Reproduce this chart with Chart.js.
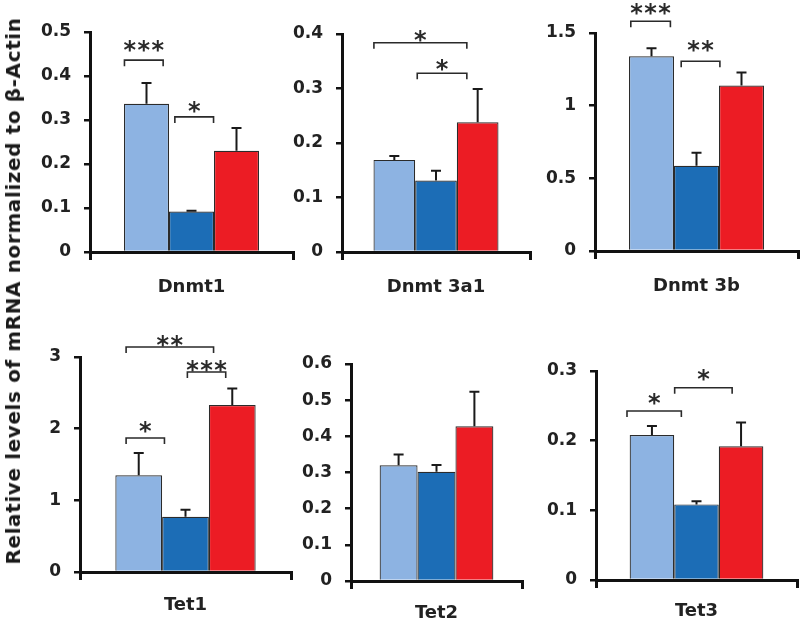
<!DOCTYPE html>
<html>
<head>
<meta charset="utf-8">
<script src="https://cdn.jsdelivr.net/npm/chart.js@4/dist/chart.umd.min.js"></script>
<style>
  html, body { margin: 0; padding: 0; background: #fff; }
  body { width: 800px; height: 621px; position: relative; overflow: hidden; }
  .panel { position: absolute; }
  #ytitle {
    position: absolute; left: 13px; top: 291px;
    transform: translate(-50%, -50%) rotate(-90deg);
    white-space: nowrap; font-family: "DejaVu Sans", sans-serif; font-weight: bold;
    font-size: 20px; letter-spacing: 0.6px; color: #1a1a1a; z-index: 5;
  }
</style>
</head>
<body>
<div id="ytitle">Relative levels of mRNA normalized to β-Actin</div>
<script>
// ---------- data ----------
const panelNames   = ['Dnmt1', 'Dnmt 3a1', 'Dnmt 3b', 'Tet1', 'Tet2', 'Tet3'];
const lightBlue    = [0.337, 0.169, 1.34, 1.35, 0.32, 0.208];
const lightBlueErr = [0.047, 0.007, 0.055, 0.31, 0.03, 0.013];
const darkBlue     = [0.092, 0.131, 0.586, 0.77, 0.302, 0.1085];
const darkBlueErr  = [0.002, 0.018, 0.09, 0.10, 0.019, 0.0045];
const redVals      = [0.23, 0.238, 1.138, 2.33, 0.428, 0.192];
const redErr       = [0.052, 0.061, 0.09, 0.23, 0.095, 0.034];

const yTicks = [
  [0, 0.1, 0.2, 0.3, 0.4, 0.5],
  [0, 0.1, 0.2, 0.3, 0.4],
  [0, 0.5, 1, 1.5],
  [0, 1, 2, 3],
  [0, 0.1, 0.2, 0.3, 0.4, 0.5, 0.6],
  [0, 0.1, 0.2, 0.3]
];
const yTickLabels = [
  ['0', '0.1', '0.2', '0.3', '0.4', '0.5'],
  ['0', '0.1', '0.2', '0.3', '0.4'],
  ['0', '0.5', '1', '1.5'],
  ['0', '1', '2', '3'],
  ['0', '0.1', '0.2', '0.3', '0.4', '0.5', '0.6'],
  ['0', '0.1', '0.2', '0.3']
];

// significance brackets: from/to in bar-index units, y in data units
const brackets = [
  [{from: -0.49, to: 0.37, y: 0.436, text: '***', gap: 16}, {from: 0.63, to: 1.49, y: 0.307, text: '*', gap: 12}],
  [{from: -0.49, to: 1.74, y: 0.384, text: '*', gap: 9}, {from: 0.55, to: 1.74, y: 0.328, text: '*', gap: 10}],
  [{from: -0.46, to: 0.42, y: 1.581, text: '***', gap: 14}, {from: 0.66, to: 1.52, y: 1.306, text: '**', gap: 17}],
  [{from: -0.27, to: 1.6, y: 3.14, text: '**', gap: 8}, {from: 1.04, to: 1.86, y: 2.79, text: '***', gap: 8}, {from: -0.27, to: 0.55, y: 1.87, text: '*', gap: 13}],
  [],
  [{from: -0.56, to: 0.66, y: 0.2426, text: '*', gap: 14}, {from: 0.51, to: 1.8, y: 0.276, text: '*', gap: 15}]
];

// ---------- layout ----------
const geom = [ // axisX, topY, zeroY, rightX, label padding
  [90, 32, 252, 293, 17],
  [342, 34, 252, 530, 17],
  [595, 33, 251, 798, 17],
  [80, 357, 572, 291, 15],
  [351, 364, 581, 522, 14],
  [596, 371, 580, 797, 13]
];
const Y_AXIS_W = 70, PAD_TOP = 34, X_AXIS_H = 50, PAD_RIGHT = 4;
const FONT = '"DejaVu Sans", sans-serif';
const colors = ['#8DB3E2', '#1C6DB6', '#EC1C24'];

const annotPlugin = {
  id: 'annot',
  afterDatasetsDraw(chart, args, opts) {
    const ctx = chart.ctx;
    const ys = chart.scales.y;
    const metas = [0, 1, 2].map(i => chart.getDatasetMeta(i).data[0]);
    // error bars (upper only)
    ctx.save();
    ctx.strokeStyle = '#1a1a1a';
    ctx.lineWidth = 2;
    opts.errs.forEach((e, i) => {
      const bar = metas[i];
      const v = chart.data.datasets[i].data[0];
      const yTop = ys.getPixelForValue(v + e);
      ctx.beginPath();
      ctx.moveTo(bar.x, bar.y);
      ctx.lineTo(bar.x, yTop);
      ctx.moveTo(bar.x - 5, yTop);
      ctx.lineTo(bar.x + 5, yTop);
      ctx.stroke();
    });
    // brackets
    const c0 = metas[0].x, step = metas[1].x - metas[0].x;
    ctx.lineWidth = 1.6;
    ctx.strokeStyle = '#2a2a2a';
    ctx.fillStyle = '#2a2a2a';
    ctx.font = 'bold 24px ' + FONT;
    ctx.textAlign = 'center';
    ctx.textBaseline = 'alphabetic';
    opts.brackets.forEach(b => {
      const x1 = c0 + b.from * step, x2 = c0 + b.to * step;
      const y = ys.getPixelForValue(b.y);
      ctx.beginPath();
      ctx.moveTo(x1, y + 6);
      ctx.lineTo(x1, y);
      ctx.lineTo(x2, y);
      ctx.lineTo(x2, y + 6);
      ctx.stroke();
      const n = b.text.length, mid = (x1 + x2) / 2, cy = y - b.gap;
      for (let k = 0; k < n; k++) {
        const sx = mid + (k - (n - 1) / 2) * 14;
        ctx.fillText('*', sx, cy + 14);
      }
    });
    ctx.restore();
  }
};

panelNames.forEach((name, p) => {
  const [ax, topY, zeroY, rightX, lblPad] = geom[p];
  const left = ax - Y_AXIS_W, top = topY - PAD_TOP;
  const w = rightX - left + PAD_RIGHT, h = zeroY - top + X_AXIS_H;
  const div = document.createElement('div');
  div.className = 'panel';
  div.style.left = left + 'px'; div.style.top = top + 'px';
  div.style.width = w + 'px'; div.style.height = h + 'px';
  const cv = document.createElement('canvas');
  cv.width = w; cv.height = h;
  cv.style.width = w + 'px'; cv.style.height = h + 'px';
  div.appendChild(cv);
  document.body.appendChild(div);

  const ticks = yTicks[p];
  new Chart(cv, {
    type: 'bar',
    data: {
      labels: [name],
      datasets: [
        {data: [lightBlue[p]], backgroundColor: colors[0]},
        {data: [darkBlue[p]], backgroundColor: colors[1]},
        {data: [redVals[p]], backgroundColor: colors[2]}
      ].map(d => Object.assign(d, {borderColor: '#2b2b2b', borderWidth: 1.2, borderSkipped: 'bottom',
        categoryPercentage: 0.665, barPercentage: 1}))
    },
    options: {
      responsive: false,
      devicePixelRatio: 1,
      animation: false,
      events: [],
      layout: {padding: {top: PAD_TOP, right: PAD_RIGHT, left: 0, bottom: 0}},
      plugins: {
        legend: {display: false}, tooltip: {enabled: false},
        annot: {errs: [lightBlueErr[p], darkBlueErr[p], redErr[p]], brackets: brackets[p]}
      },
      scales: {
        x: {
          offset: true,
          grid: {display: true, offset: true, drawOnChartArea: false, drawTicks: true, tickLength: 8, color: '#111', lineWidth: 3},
          border: {display: true, color: '#111', width: 3},
          ticks: {font: {family: FONT, weight: 'bold', size: 18}, color: '#222', padding: lblPad},
          afterFit(s) { s.height = X_AXIS_H; }
        },
        y: {
          min: ticks[0], max: ticks[ticks.length - 1],
          afterBuildTicks(s) { s.ticks = ticks.map(v => ({value: v})); },
          grid: {display: true, drawOnChartArea: false, drawTicks: true, tickLength: 6, color: '#111', lineWidth: 2.5},
          border: {display: true, color: '#111', width: 3},
          ticks: {
            font: {family: FONT, weight: 'bold', size: 17}, color: '#222', padding: 13,
            callback(v, i) { return yTickLabels[p][i]; }
          },
          afterFit(s) { s.width = Y_AXIS_W; }
        }
      }
    },
    plugins: [annotPlugin]
  });
});
</script>
</body>
</html>
